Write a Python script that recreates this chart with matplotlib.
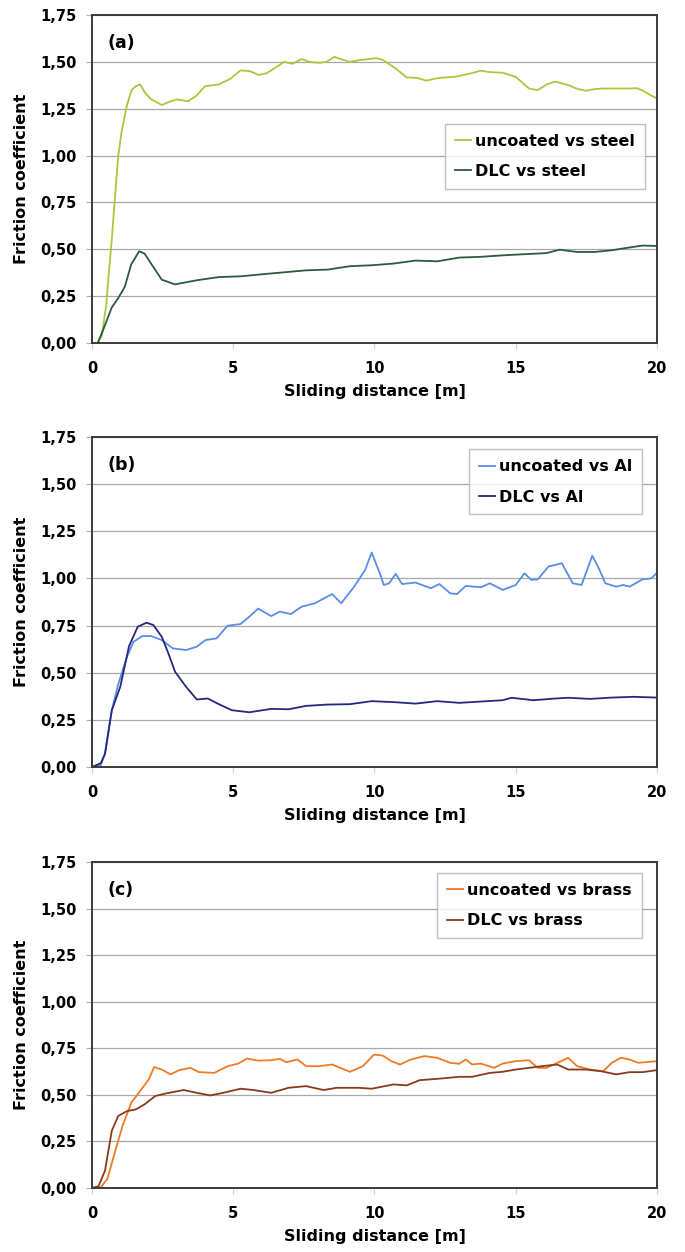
import matplotlib
matplotlib.use("Agg")
import matplotlib.pyplot as plt
from matplotlib.ticker import FuncFormatter, MultipleLocator

# data -----------------------------------------------------------------------

x_steel_unc = [0, 0.2, 0.35, 0.5, 0.6, 0.7, 0.8, 0.93, 1.05, 1.24, 1.4, 1.55, 1.7, 1.9, 2.1, 2.47,
               2.8, 3.0, 3.4, 3.7, 4.0, 4.5, 4.9, 5.26, 5.6, 5.9, 6.19, 6.5, 6.8, 7.1, 7.42, 7.7,
               8.04, 8.3, 8.58, 8.8, 9.13, 9.5, 9.8, 10.05, 10.3, 10.75, 11.14, 11.5, 11.83, 12.3,
               12.84, 13.3, 13.77, 14.1, 14.54, 15.0, 15.47, 15.78, 16.1, 16.4, 16.86, 17.2, 17.48,
               17.8, 18.1, 18.6, 19.0, 19.3, 19.5, 19.8, 20]
y_steel_unc = [0, 0, 0.04, 0.2, 0.38, 0.55, 0.75, 1.0, 1.13, 1.27, 1.35, 1.37, 1.38, 1.33, 1.30, 1.27,
               1.29, 1.30, 1.29, 1.32, 1.37, 1.38, 1.41, 1.455, 1.45, 1.43, 1.44, 1.47, 1.50, 1.49,
               1.515, 1.50, 1.495, 1.50, 1.527, 1.515, 1.50, 1.51, 1.515, 1.52, 1.51, 1.465, 1.417,
               1.415, 1.40, 1.415, 1.42, 1.435, 1.453, 1.445, 1.442, 1.42, 1.358, 1.35, 1.38, 1.395,
               1.376, 1.355, 1.346, 1.355, 1.358, 1.358, 1.358, 1.36, 1.346, 1.32, 1.305]

x_steel_dlc = [0, 0.2, 0.39, 0.7, 0.93, 1.16, 1.39, 1.67, 1.86, 2.17, 2.47, 2.94, 3.71, 4.49, 5.26,
               6.03, 7.58, 8.35, 9.13, 9.9, 10.67, 11.45, 12.22, 13.0, 13.77, 14.54, 15.31, 16.09,
               16.55, 17.17, 17.79, 18.4, 19.03, 19.49, 20]
y_steel_dlc = [0, 0, 0.068, 0.19, 0.24, 0.30, 0.42, 0.49, 0.477, 0.406, 0.338, 0.313, 0.335, 0.352,
               0.356, 0.367, 0.388, 0.392, 0.41, 0.415, 0.424, 0.44, 0.436, 0.456, 0.46, 0.468, 0.474,
               0.48, 0.498, 0.486, 0.486, 0.495, 0.51, 0.52, 0.518]

x_al_unc = [0, 0.31, 0.46, 0.70, 0.93, 1.24, 1.47, 1.78, 2.09, 2.47, 2.86, 3.33, 3.71, 4.02, 4.41,
            4.8, 5.26, 5.57, 5.88, 6.34, 6.65, 7.04, 7.42, 7.89, 8.5, 8.82, 9.28, 9.67, 9.9, 10.21,
            10.33, 10.52, 10.75, 10.98, 11.45, 11.99, 12.3, 12.68, 12.92, 13.23, 13.77, 14.08, 14.54,
            15.0, 15.31, 15.55, 15.78, 16.16, 16.63, 17.02, 17.33, 17.71, 17.94, 18.17, 18.56, 18.8,
            19.03, 19.49, 19.8, 20]
y_al_unc = [0, 0.01, 0.07, 0.30, 0.44, 0.585, 0.664, 0.694, 0.694, 0.673, 0.629, 0.62, 0.638, 0.673,
            0.682, 0.749, 0.758, 0.797, 0.84, 0.80, 0.824, 0.811, 0.85, 0.868, 0.917, 0.868, 0.956,
            1.045, 1.137, 1.018, 0.965, 0.974, 1.024, 0.97, 0.978, 0.948, 0.97, 0.921, 0.917, 0.96,
            0.953, 0.974, 0.939, 0.965, 1.027, 0.992, 0.995, 1.063, 1.08, 0.974, 0.965, 1.12, 1.054,
            0.974, 0.956, 0.965, 0.956, 0.995, 1.0, 1.03]

x_al_dlc = [0, 0.31, 0.46, 0.70, 1.0, 1.31, 1.62, 1.93, 2.17, 2.47, 2.71, 2.94, 3.33, 3.71, 4.1,
            4.49, 4.95, 5.57, 6.34, 6.96, 7.58, 8.35, 9.13, 9.9, 10.67, 11.45, 12.22, 13.0, 13.77,
            14.54, 14.85, 15.62, 16.4, 16.86, 17.63, 18.4, 19.18, 20]
y_al_dlc = [0, 0.02, 0.07, 0.30, 0.425, 0.64, 0.744, 0.765, 0.753, 0.69, 0.60, 0.505, 0.425, 0.358,
            0.363, 0.333, 0.301, 0.29, 0.308, 0.306, 0.324, 0.331, 0.333, 0.349, 0.344, 0.336, 0.349,
            0.34, 0.347, 0.354, 0.367, 0.354, 0.363, 0.367, 0.361, 0.368, 0.372, 0.368]

x_brass_unc = [0, 0.31, 0.54, 0.77, 1.08, 1.39, 1.70, 2.01, 2.2, 2.47, 2.78, 3.09, 3.48, 3.79, 4.33,
               4.8, 5.18, 5.49, 5.88, 6.34, 6.65, 6.88, 7.27, 7.58, 8.04, 8.5, 9.13, 9.59, 9.98,
               10.29, 10.6, 10.9, 11.29, 11.76, 12.22, 12.68, 13.0, 13.23, 13.46, 13.77, 14.23,
               14.54, 15.0, 15.47, 15.78, 16.09, 16.4, 16.86, 17.17, 17.63, 18.1, 18.4, 18.72, 19.03,
               19.34, 20]
y_brass_unc = [0, 0.004, 0.048, 0.17, 0.333, 0.458, 0.52, 0.583, 0.649, 0.636, 0.61, 0.633, 0.645,
               0.622, 0.618, 0.654, 0.668, 0.695, 0.684, 0.686, 0.693, 0.675, 0.69, 0.654, 0.654,
               0.663, 0.624, 0.654, 0.716, 0.711, 0.681, 0.663, 0.69, 0.708, 0.699, 0.672, 0.667,
               0.69, 0.663, 0.668, 0.645, 0.668, 0.681, 0.686, 0.645, 0.645, 0.667, 0.699, 0.654,
               0.636, 0.627, 0.672, 0.699, 0.69, 0.672, 0.681]

x_brass_dlc = [0, 0.23, 0.46, 0.70, 0.93, 1.24, 1.55, 1.86, 2.24, 2.63, 3.25, 3.71, 4.18, 4.64,
               5.26, 5.72, 6.34, 6.96, 7.58, 8.2, 8.66, 9.44, 9.9, 10.67, 11.14, 11.6, 12.22, 13.0,
               13.46, 14.08, 14.54, 15.0, 15.47, 15.93, 16.47, 16.86, 17.48, 18.02, 18.56, 19.03,
               19.49, 20]
y_brass_dlc = [0, 0.01, 0.093, 0.307, 0.387, 0.413, 0.422, 0.449, 0.494, 0.508, 0.526, 0.511, 0.497,
               0.511, 0.533, 0.526, 0.511, 0.538, 0.547, 0.526, 0.538, 0.538, 0.533, 0.556, 0.551,
               0.579, 0.586, 0.597, 0.597, 0.618, 0.624, 0.636, 0.645, 0.654, 0.663, 0.636, 0.636,
               0.627, 0.61, 0.622, 0.622, 0.633]

panels = [
    ("(a)", (x_steel_unc, y_steel_unc, "uncoated vs steel", "#a9c83c"),
            (x_steel_dlc, y_steel_dlc, "DLC vs steel", "#2c5a3c"), (0.979, 0.668)),
    ("(b)", (x_al_unc, y_al_unc, "uncoated vs Al", "#5b8de6"),
            (x_al_dlc, y_al_dlc, "DLC vs Al", "#24287e"), (0.973, 0.962)),
    ("(c)", (x_brass_unc, y_brass_unc, "uncoated vs brass", "#f07a26"),
            (x_brass_dlc, y_brass_dlc, "DLC vs brass", "#8a3a1c"), (0.973, 0.966)),
]

# axes boxes in figure fractions: left, bottom, width, height
boxes = [(0.1343, 0.7260, 0.8248, 0.2620),
         (0.1343, 0.3874, 0.8248, 0.2636),
         (0.1343, 0.0511, 0.8248, 0.2604)]

comma = FuncFormatter(lambda v, p: ("%.2f" % v).replace(".", ","))

plt.rcParams['font.family'] = 'DejaVu Sans'
plt.rcParams['font.weight'] = 'bold'

fig = plt.figure(figsize=(6.85, 12.52), dpi=100)

for (tag, unc, dlc, leg_pos), box in zip(panels, boxes):
    ax = fig.add_axes(box)
    ax.plot(unc[0], unc[1], color=unc[3], lw=1.3, label=unc[2])
    ax.plot(dlc[0], dlc[1], color=dlc[3], lw=1.3, label=dlc[2])
    ax.set_xlim(0, 20)
    ax.set_ylim(0, 1.75)
    ax.xaxis.set_major_locator(MultipleLocator(5))
    ax.yaxis.set_major_locator(MultipleLocator(0.25))
    ax.yaxis.set_major_formatter(comma)
    ax.grid(axis='y', color='#a8a8a8', lw=0.9)
    ax.set_axisbelow(True)
    for s in ax.spines.values():
        s.set_color('#3a3a3a')
        s.set_linewidth(1.4)
    ax.tick_params(axis='y', length=4, width=0.8, color='#b0b0b0', pad=7, labelsize=10.5)
    ax.tick_params(axis='x', length=4, width=0.8, color='#d0d0d0', pad=9, labelsize=10.5)
    ax.set_xlabel("Sliding distance [m]", fontsize=11.5, fontweight='bold', labelpad=6)
    ax.set_ylabel("Friction coefficient", fontsize=11.5, fontweight='bold', labelpad=8)
    ax.text(0.028, 0.915, tag, transform=ax.transAxes, fontsize=12.5, fontweight='bold',
            ha='left', va='center')
    leg = ax.legend(loc='upper right', bbox_to_anchor=leg_pos, borderaxespad=0,
                    fontsize=11.5, frameon=True, fancybox=False, handlelength=1.0,
                    handletextpad=0.25, labelspacing=0.95, borderpad=0.62)
    leg.get_frame().set_edgecolor('#b0b0b0')
    leg.get_frame().set_linewidth(1.0)

plt.savefig("out.png", dpi=100)
